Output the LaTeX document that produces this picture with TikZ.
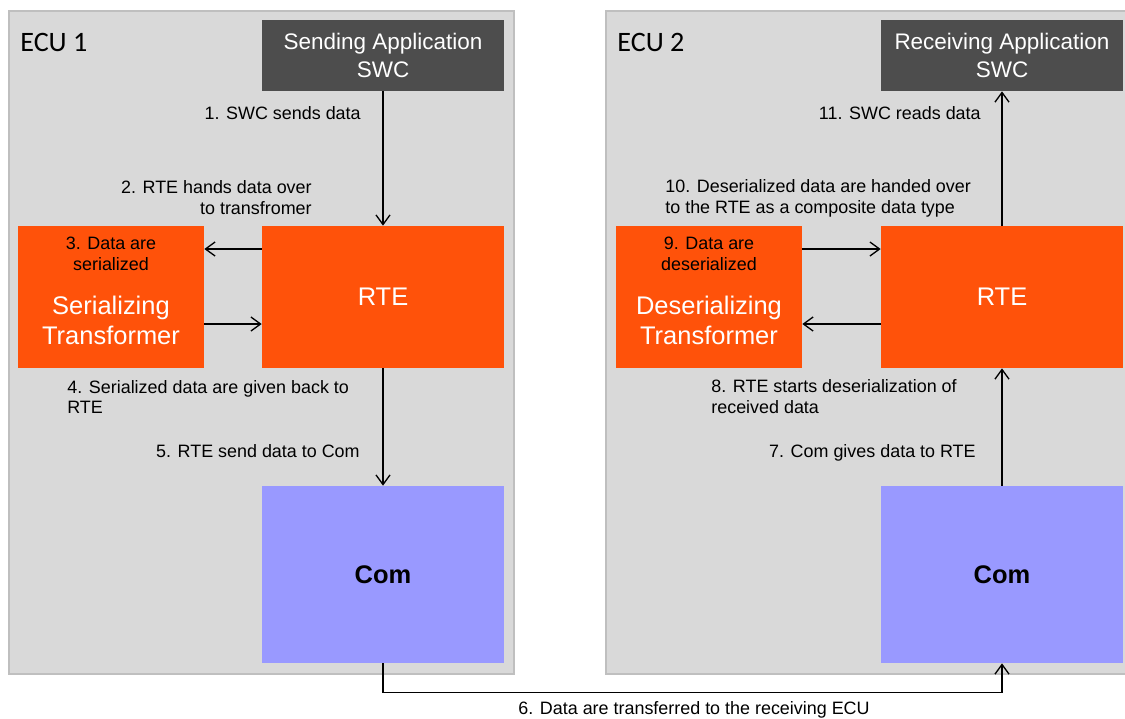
\documentclass[tikz,border=0pt]{standalone}
\usepackage{fontspec}
\setmainfont{Liberation Sans}
\newfontfamily\ecufont{Carlito}
\usepackage{tikz}
\usetikzlibrary{arrows.meta,positioning,calc}
\definecolor{EcuGray}{HTML}{D9D9D9}
\definecolor{EcuLine}{HTML}{BFBFBF}
\definecolor{SwcGray}{HTML}{4D4D4D}
\definecolor{RteOrange}{HTML}{FF520A}
\definecolor{ComBlue}{HTML}{9999FF}
\newcommand{\lblfont}{\fontsize{10.2}{11.9}\selectfont}
\newcommand{\swcfont}{\fontsize{12.8}{15.9}\selectfont}
\newcommand{\boxfont}{\fontsize{14.5}{17}\selectfont}

\begin{document}
\begin{tikzpicture}[x=0.02cm,y=-0.02cm,font=\lblfont,every node/.style={align=center,inner sep=0pt},
  flow/.style={-{Straight Barb[length=5.5pt,width=8pt]},line width=0.75pt},
  ecu/.style={draw=EcuLine,line width=1.1pt,fill=EcuGray,minimum height=13.26cm},
  swc/.style={fill=SwcGray,text=white,font=\swcfont,minimum width=4.84cm,minimum height=1.42cm},
  rte/.style={fill=RteOrange,text=white,font=\boxfont,minimum width=4.84cm,minimum height=2.84cm},
  trans/.style={fill=RteOrange,minimum width=3.72cm,minimum height=2.84cm},
  com/.style={fill=ComBlue,font=\boxfont\bfseries,minimum width=4.84cm,minimum height=3.54cm}]
  \useasboundingbox (0,0) rectangle (1125,718);
  \clip (0,0) rectangle (1125,718);
  % ECU 1
  \node[ecu,minimum width=10.1cm] (ecu1) at (261.5,342.5) {};
  \node[anchor=west,font=\ecufont\fontsize{16}{19}\selectfont] at (20,42) {ECU 1};
  \node[swc] (swc1) at (383,55.5) {Sending Application\\SWC};
  \node[rte] (rte1) at (383,297) {RTE};
  \node[trans] (ser) at (111,297) {};
  \node at (111,254) {3. Data are\\serialized};
  \node[text=white,font=\boxfont] at (111,320) {Serializing\\Transformer};
  \node[com] (com1) at (383,574.5) {Com};
  % ECU 2 (runs past the right edge)
  \node[ecu,minimum width=10.68cm] (ecu2) at (873,342.5) {};
  \node[anchor=west,font=\ecufont\fontsize{16}{19}\selectfont] at (617,42) {ECU 2};
  \node[swc] (swc2) at (1002,55.5) {Receiving Application\\SWC};
  \node[rte] (rte2) at (1002,297) {RTE};
  \node[trans] (deser) at (709,297) {};
  \node at (709,254) {9. Data are\\deserialized};
  \node[text=white,font=\boxfont] at (709,320) {Deserializing\\Transformer};
  \node[com] (com2) at (1002,574.5) {Com};
  % sending side
  \draw[flow] (swc1) -- (rte1);
  \node[anchor=east] at (361,113) {1. SWC sends data};
  \node[anchor=east,align=right] at (312,198) {2. RTE hands data over\\to transfromer};
  \draw[flow] ($(rte1.west)+(0,-48)$) -- ($(ser.east)+(0,-48)$);
  \draw[flow] ($(ser.east)+(0,27)$) -- ($(rte1.west)+(0,27)$);
  \node[anchor=west,align=left] at (67,397) {4. Serialized data are given back to\\RTE};
  \node[anchor=east] at (360,451) {5. RTE send data to Com};
  \draw[flow] (rte1) -- (com1);
  % bus
  \draw[flow] (com1.south) -- ++(0,29) -| (com2.south);
  \node at (694,710) {6. Data are transferred to the receiving ECU};
  % receiving side
  \draw[flow] (com2) -- (rte2);
  \node[anchor=east] at (976,453) {7. Com gives data to RTE};
  \node[anchor=west,align=left] at (711,397) {8. RTE starts deserialization of\\received data};
  \draw[flow] ($(rte2.west)+(0,27)$) -- ($(deser.east)+(0,27)$);
  \draw[flow] ($(deser.east)+(0,-48)$) -- ($(rte2.west)+(0,-48)$);
  \node[anchor=west,align=left] at (665,198) {10. Deserialized data are handed over\\to the RTE as a composite data type};
  \draw[flow] (rte2) -- (swc2);
  \node[anchor=east] at (981,113) {11. SWC reads data};
\end{tikzpicture}
\end{document}
